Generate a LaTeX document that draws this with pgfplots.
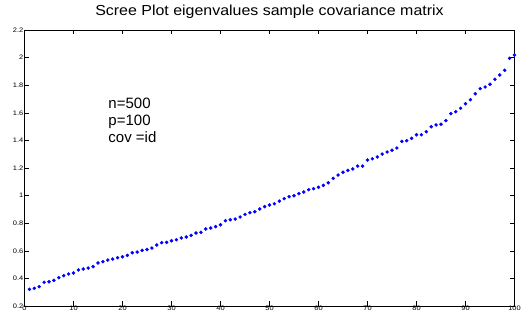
\documentclass[border=0pt]{standalone}
\usepackage{pgfplots}
\pgfplotsset{compat=1.18}
\usepackage{fontspec}
\setmainfont{Liberation Sans}
\newfontfamily\titlefont[FakeStretch=1.1]{Liberation Sans}
\newfontfamily\tickfont[FakeStretch=1.15]{Liberation Sans}
\begin{document}
\begin{tikzpicture}
\begin{axis}[
  at={(0,0)}, anchor=south west,
  scale only axis, width=490pt, height=276pt,
  xmin=0, xmax=100, ymin=0.2, ymax=2.2,
  xtick={0,10,20,30,40,50,60,70,80,90,100},
  ytick={0.2,0.4,0.6,0.8,1,1.2,1.4,1.6,1.8,2,2.2},
  yticklabel style={/pgf/number format/fixed, /pgf/number format/precision=1},
  /pgf/number format/assume math mode=true,
  tick label style={font=\tickfont\fontsize{6.5}{7}\selectfont, inner sep=1pt},
  xticklabel style={yshift=1pt},
  tick align=inside, major tick length=4.5pt,
  tick style={black, line width=0.4pt},
  axis line style={black, line width=0.6pt},
  title={Scree Plot eigenvalues sample covariance matrix},
  title style={at={(0.5,1)}, anchor=base, yshift=8.3pt, inner sep=0pt, font=\titlefont\fontsize{14.5}{17}\selectfont},
]
\addplot[only marks, mark=*, mark size=1.55pt, color={rgb,255:red,0;green,0;blue,255}] table {
x y
1 0.321
2 0.328
3 0.340
4 0.372
5 0.376
6 0.386
7 0.405
8 0.420
9 0.432
10 0.439
11 0.461
12 0.468
13 0.475
14 0.485
15 0.512
16 0.521
17 0.533
18 0.540
19 0.550
20 0.557
21 0.567
22 0.586
23 0.591
24 0.603
25 0.609
26 0.620
27 0.642
28 0.659
29 0.661
30 0.673
31 0.680
32 0.693
33 0.700
34 0.712
35 0.729
36 0.734
37 0.758
38 0.765
39 0.775
40 0.789
41 0.818
42 0.825
43 0.830
44 0.845
45 0.864
46 0.876
47 0.883
48 0.903
49 0.920
50 0.932
51 0.941
52 0.960
53 0.978
54 0.992
55 0.999
56 1.014
57 1.026
58 1.043
59 1.050
60 1.060
61 1.074
62 1.093
63 1.125
64 1.149
65 1.169
66 1.183
67 1.193
68 1.214
69 1.214
70 1.258
71 1.267
72 1.280
73 1.301
74 1.316
75 1.329
76 1.345
77 1.393
78 1.398
79 1.415
80 1.441
81 1.441
82 1.463
83 1.499
84 1.512
85 1.517
86 1.543
87 1.594
88 1.608
89 1.633
90 1.666
91 1.695
92 1.738
93 1.775
94 1.787
95 1.807
96 1.843
97 1.874
98 1.908
99 1.995
100 2.019
};
\node[anchor=base west, inner sep=0pt, font=\fontsize{15}{18}\selectfont] at (axis cs:17.1,1.633) {n=500};
\node[anchor=base west, inner sep=0pt, font=\fontsize{15}{18}\selectfont] at (axis cs:17.1,1.505) {p=100};
\node[anchor=base west, inner sep=0pt, font=\fontsize{15}{18}\selectfont] at (axis cs:17.1,1.383) {cov =id};
\end{axis}
\pgfresetboundingbox
\path (-24.5pt,-10pt) rectangle (497.5pt,306pt);
\end{tikzpicture}
\end{document}
